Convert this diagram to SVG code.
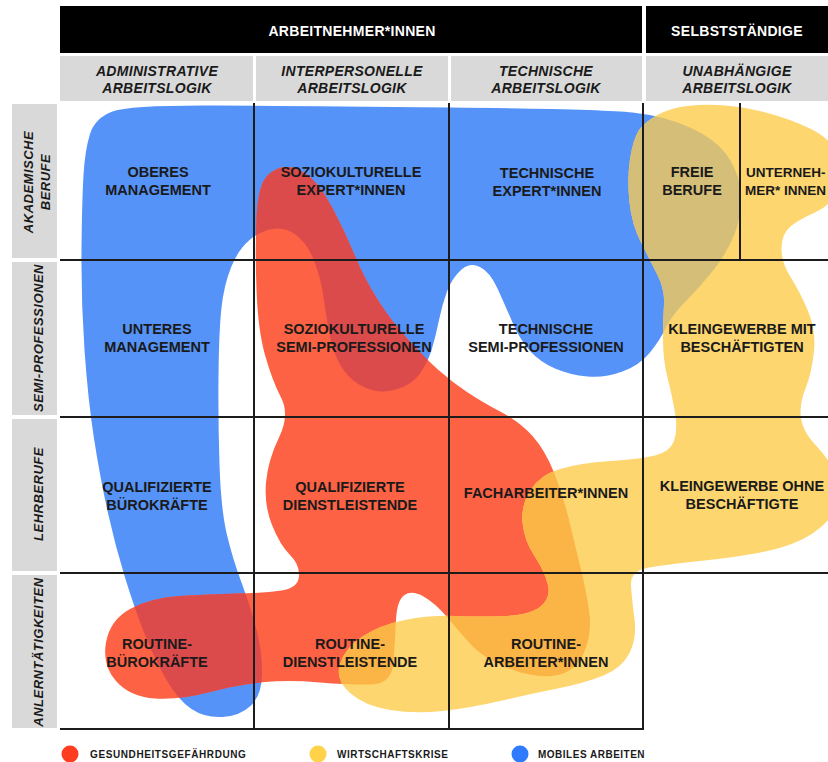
<svg xmlns="http://www.w3.org/2000/svg" xmlns:xlink="http://www.w3.org/1999/xlink" width="828" height="762" viewBox="0 0 828 762">
<style>
text{font-family:"Liberation Sans",Arial,sans-serif;font-weight:bold;fill:#1a1a1a}
.cell{font-size:14.5px;text-anchor:middle}
.hd{font-size:14px;fill:#fff;text-anchor:middle;letter-spacing:0.3px}
.sub{font-size:14px;font-style:italic;text-anchor:middle;letter-spacing:0.3px}
.row{font-size:13px;font-style:italic;text-anchor:middle;letter-spacing:0.5px}
.leg{font-size:10px;letter-spacing:0.6px}
.grid{stroke:#1c1c1c;stroke-width:2;fill:none}
.gray{fill:#d9d9d9}
</style>
<defs>
<path id="pBlue" d="M83.5,175 Q85,150 90,134 Q95,118 112.5,111.5 Q130,105 215,105.5 Q300,106 450,107.5 Q600,109 632.5,112.5 Q665,116 691,128 Q717,140 728.5,157.5 Q740,175 741,195 Q742,215 734.5,234 Q727,253 713.5,270 Q700,287 686,301 Q672,315 666,327.5 Q660,340 650,352.5 Q640,365 622.5,371.5 Q605,378 587.5,376.5 Q570,375 555,368.5 Q540,362 530,351 Q520,340 512.5,322.5 Q505,305 497.5,288.5 Q490,272 480,267 Q470,262 461,270 Q452,278 447,291.5 Q442,305 439,320 Q436,335 432,348.5 Q428,362 420,373.5 Q412,385 396,389.5 Q380,394 366,388 Q352,382 343.5,370 Q335,358 331,340.5 Q327,323 324,300.5 Q321,278 314,260.5 Q307,243 296,235 Q285,227 272.5,229 Q260,231 249,240.5 Q238,250 231,267.5 Q224,285 221.5,307.5 Q219,330 218.5,375 Q218,420 219.5,465 Q221,510 227,535 Q233,560 241.5,582.5 Q250,605 256,627.5 Q262,650 262,672.5 Q262,695 251,705.5 Q240,716 222.5,717 Q205,718 191.5,709 Q178,700 166.5,680 Q155,660 145,635 Q135,610 125,577.5 Q115,545 107.5,511 Q100,477 94,438.5 Q88,400 84.5,350 Q81,300 81.5,250 Q82,200 83.5,175 Z"/>
<path id="pRed" d="M267.5,175.5 Q277,166 288.5,167 Q300,168 311,178 Q322,188 333.5,210 Q345,232 355,256 Q365,280 378.5,301 Q392,322 408.5,340 Q425,358 438.5,370 Q452,382 467,392 Q482,402 501,412 Q520,422 532.5,436 Q545,450 554,472.5 Q563,495 569,520 Q575,545 580.5,567.5 Q586,590 589,610 Q592,630 586,647.5 Q580,665 567.5,671.5 Q555,678 536,675.5 Q517,673 498.5,664 Q480,655 469,642.5 Q458,630 446.5,616.5 Q435,603 423.5,596.5 Q412,590 404.5,595 Q397,600 396,620 Q395,640 393.5,662 Q392,684 371,684.5 Q350,685 320,682.5 Q290,680 265,682 Q240,684 210,692 Q180,700 155,698.5 Q130,697 116,681 Q102,665 106,642.5 Q110,620 130,609 Q150,598 180,596 Q210,594 237.5,593.5 Q265,593 281.5,590.5 Q298,588 299,576.5 Q300,565 290,555 Q280,545 272,525 Q264,505 266,482.5 Q268,460 279,437.5 Q290,415 281,397.5 Q272,380 265,355 Q258,330 256.5,290 Q255,250 256.5,217.5 Q258,185 267.5,175.5 Z"/>
<path id="pYellow" d="M639,130 Q645,122 657.5,115 Q670,108 687.5,106 Q705,104 725,105.5 Q745,107 767.5,113 Q790,119 810,128.5 Q830,138 837.5,154 Q845,170 838.5,187.5 Q832,205 816,212 Q800,219 791,226 Q782,233 781.5,247.5 Q781,262 790.5,277 Q800,292 808,311 Q816,330 814,351 Q812,372 805.5,388.5 Q799,405 801,418.5 Q803,432 815.5,445 Q828,458 836.5,474 Q845,490 837.5,506 Q830,522 812.5,533.5 Q795,545 767.5,551 Q740,557 700,561 Q660,565 645,568.5 Q630,572 631,586 Q632,600 634.5,619 Q637,638 629.5,653 Q622,668 603.5,675.5 Q585,683 557.5,688.5 Q530,694 500,701 Q470,708 442.5,711 Q415,714 390,710 Q365,706 350,693 Q335,680 340,664 Q345,648 362.5,636.5 Q380,625 405,620 Q430,615 455,616 Q480,617 505,616 Q530,615 540.5,606.5 Q551,598 548,585 Q545,572 534.5,556 Q524,540 522.5,522.5 Q521,505 530.5,490 Q540,475 560,469 Q580,463 610,461 Q640,459 655,455.5 Q670,452 674,441 Q678,430 675,412.5 Q672,395 667.5,377.5 Q663,360 663,340 Q663,320 664,305 Q665,290 657.5,275 Q650,260 641,242.5 Q632,225 629.5,202.5 Q627,180 630,159 Q633,140 639,130 Z"/>
<clipPath id="cBlue"><use xlink:href="#pBlue"/></clipPath>
<clipPath id="cRed"><use xlink:href="#pRed"/></clipPath>
</defs>
<rect width="828" height="762" fill="#fff"/>
<g id="header">
<rect x="60" y="6" width="582" height="47" fill="#000"/>
<rect x="646" y="6" width="182" height="47" fill="#000"/>
<text class="hd" x="352" y="36">ARBEITNEHMER*INNEN</text>
<text class="hd" x="737" y="36">SELBSTSTÄNDIGE</text>
<rect class="gray" x="60" y="56" width="193" height="45"/>
<rect class="gray" x="256" y="56" width="192" height="45"/>
<rect class="gray" x="451" y="56" width="191" height="45"/>
<rect class="gray" x="646" y="56" width="182" height="45"/>
<text class="sub" x="157"><tspan x="157" y="76">ADMINISTRATIVE</tspan><tspan x="157" y="93">ARBEITSLOGIK</tspan></text>
<text class="sub" x="352"><tspan x="352" y="76">INTERPERSONELLE</tspan><tspan x="352" y="93">ARBEITSLOGIK</tspan></text>
<text class="sub" x="546"><tspan x="546" y="76">TECHNISCHE</tspan><tspan x="546" y="93">ARBEITSLOGIK</tspan></text>
<text class="sub" x="737"><tspan x="737" y="76">UNABHÄNGIGE</tspan><tspan x="737" y="93">ARBEITSLOGIK</tspan></text>
</g>
<g id="rowlabels">
<rect class="gray" x="12" y="104" width="45" height="154"/>
<rect class="gray" x="12" y="262" width="45" height="153"/>
<rect class="gray" x="12" y="419" width="45" height="152"/>
<rect class="gray" x="12" y="575" width="45" height="153"/>
<text class="row" transform="translate(0,182) rotate(-90)"><tspan x="0" y="33">AKADEMISCHE</tspan><tspan x="0" y="50">BERUFE</tspan></text>
<text class="row" transform="translate(0,338) rotate(-90)" x="0" y="43">SEMI-PROFESSIONEN</text>
<text class="row" transform="translate(0,494) rotate(-90)" x="0" y="43">LEHRBERUFE</text>
<text class="row" transform="translate(0,652) rotate(-90)" x="0" y="43">ANLERNTÄTIGKEITEN</text>
</g>
<g id="areas">
<use id="area-mobil" xlink:href="#pBlue" fill="#5593f8"/>
<use id="area-gesundheit" xlink:href="#pRed" fill="#fe6244"/>
<use xlink:href="#pRed" fill="#dc4b4b" clip-path="url(#cBlue)"/>
<use id="area-wirtschaft" xlink:href="#pYellow" fill="#fdd66f"/>
<use xlink:href="#pYellow" fill="#d5be78" clip-path="url(#cBlue)"/>
<use xlink:href="#pYellow" fill="#fbb446" clip-path="url(#cRed)"/>
</g>
<g id="connectors">
<path class="grid" d="M60,260 H828 M60,417 H828 M60,573 H828 M60,729 H644 M254,103 V730 M449,103 V730 M643,103 V730 M740,103 V260"/>
</g>
<g id="n-oberes"><text class="cell"><tspan x="158" y="177">OBERES</tspan><tspan x="158" y="195">MANAGEMENT</tspan></text></g>
<g id="n-sozexp"><text class="cell"><tspan x="351" y="177">SOZIOKULTURELLE</tspan><tspan x="351" y="195">EXPERT*INNEN</tspan></text></g>
<g id="n-techexp"><text class="cell"><tspan x="547" y="178">TECHNISCHE</tspan><tspan x="547" y="196">EXPERT*INNEN</tspan></text></g>
<g id="n-freie"><text class="cell"><tspan x="692" y="177">FREIE</tspan><tspan x="692" y="195">BERUFE</tspan></text></g>
<g id="n-untern"><text class="cell" style="text-anchor:start;font-size:13.5px"><tspan x="746" y="177">UNTERNEH-</tspan><tspan x="745" y="195">MER* INNEN</tspan></text></g>
<g id="n-unteres"><text class="cell"><tspan x="157" y="334">UNTERES</tspan><tspan x="157" y="352">MANAGEMENT</tspan></text></g>
<g id="n-sozsemi"><text class="cell"><tspan x="354" y="334">SOZIOKULTURELLE</tspan><tspan x="354" y="352">SEMI-PROFESSIONEN</tspan></text></g>
<g id="n-techsemi"><text class="cell"><tspan x="546" y="334">TECHNISCHE</tspan><tspan x="546" y="352">SEMI-PROFESSIONEN</tspan></text></g>
<g id="n-kleinmit"><text class="cell"><tspan x="742" y="334">KLEINGEWERBE MIT</tspan><tspan x="742" y="352">BESCHÄFTIGTEN</tspan></text></g>
<g id="n-qualbuero"><text class="cell"><tspan x="157" y="492">QUALIFIZIERTE</tspan><tspan x="157" y="510">BÜROKRÄFTE</tspan></text></g>
<g id="n-qualdienst"><text class="cell"><tspan x="350" y="492">QUALIFIZIERTE</tspan><tspan x="350" y="510">DIENSTLEISTENDE</tspan></text></g>
<g id="n-fach"><text class="cell" x="546" y="498">FACHARBEITER*INNEN</text></g>
<g id="n-kleinohne"><text class="cell"><tspan x="742" y="491">KLEINGEWERBE OHNE</tspan><tspan x="742" y="509">BESCHÄFTIGTE</tspan></text></g>
<g id="n-routbuero"><text class="cell"><tspan x="157" y="649">ROUTINE-</tspan><tspan x="157" y="667">BÜROKRÄFTE</tspan></text></g>
<g id="n-routdienst"><text class="cell"><tspan x="350" y="649">ROUTINE-</tspan><tspan x="350" y="667">DIENSTLEISTENDE</tspan></text></g>
<g id="n-routarb"><text class="cell"><tspan x="546" y="649">ROUTINE-</tspan><tspan x="546" y="667">ARBEITER*INNEN</tspan></text></g>
<g id="legend">
<circle cx="70" cy="754" r="8.5" fill="#ff3d1f"/>
<text class="leg" x="90" y="758">GESUNDHEITSGEFÄHRDUNG</text>
<circle cx="318" cy="754" r="8.5" fill="#ffd24a"/>
<text class="leg" x="337" y="758" style="letter-spacing:0.5px">WIRTSCHAFTSKRISE</text>
<circle cx="520" cy="754" r="8.5" fill="#2f7bff"/>
<text class="leg" x="538" y="758" style="letter-spacing:0.5px">MOBILES ARBEITEN</text>
</g>
</svg>
